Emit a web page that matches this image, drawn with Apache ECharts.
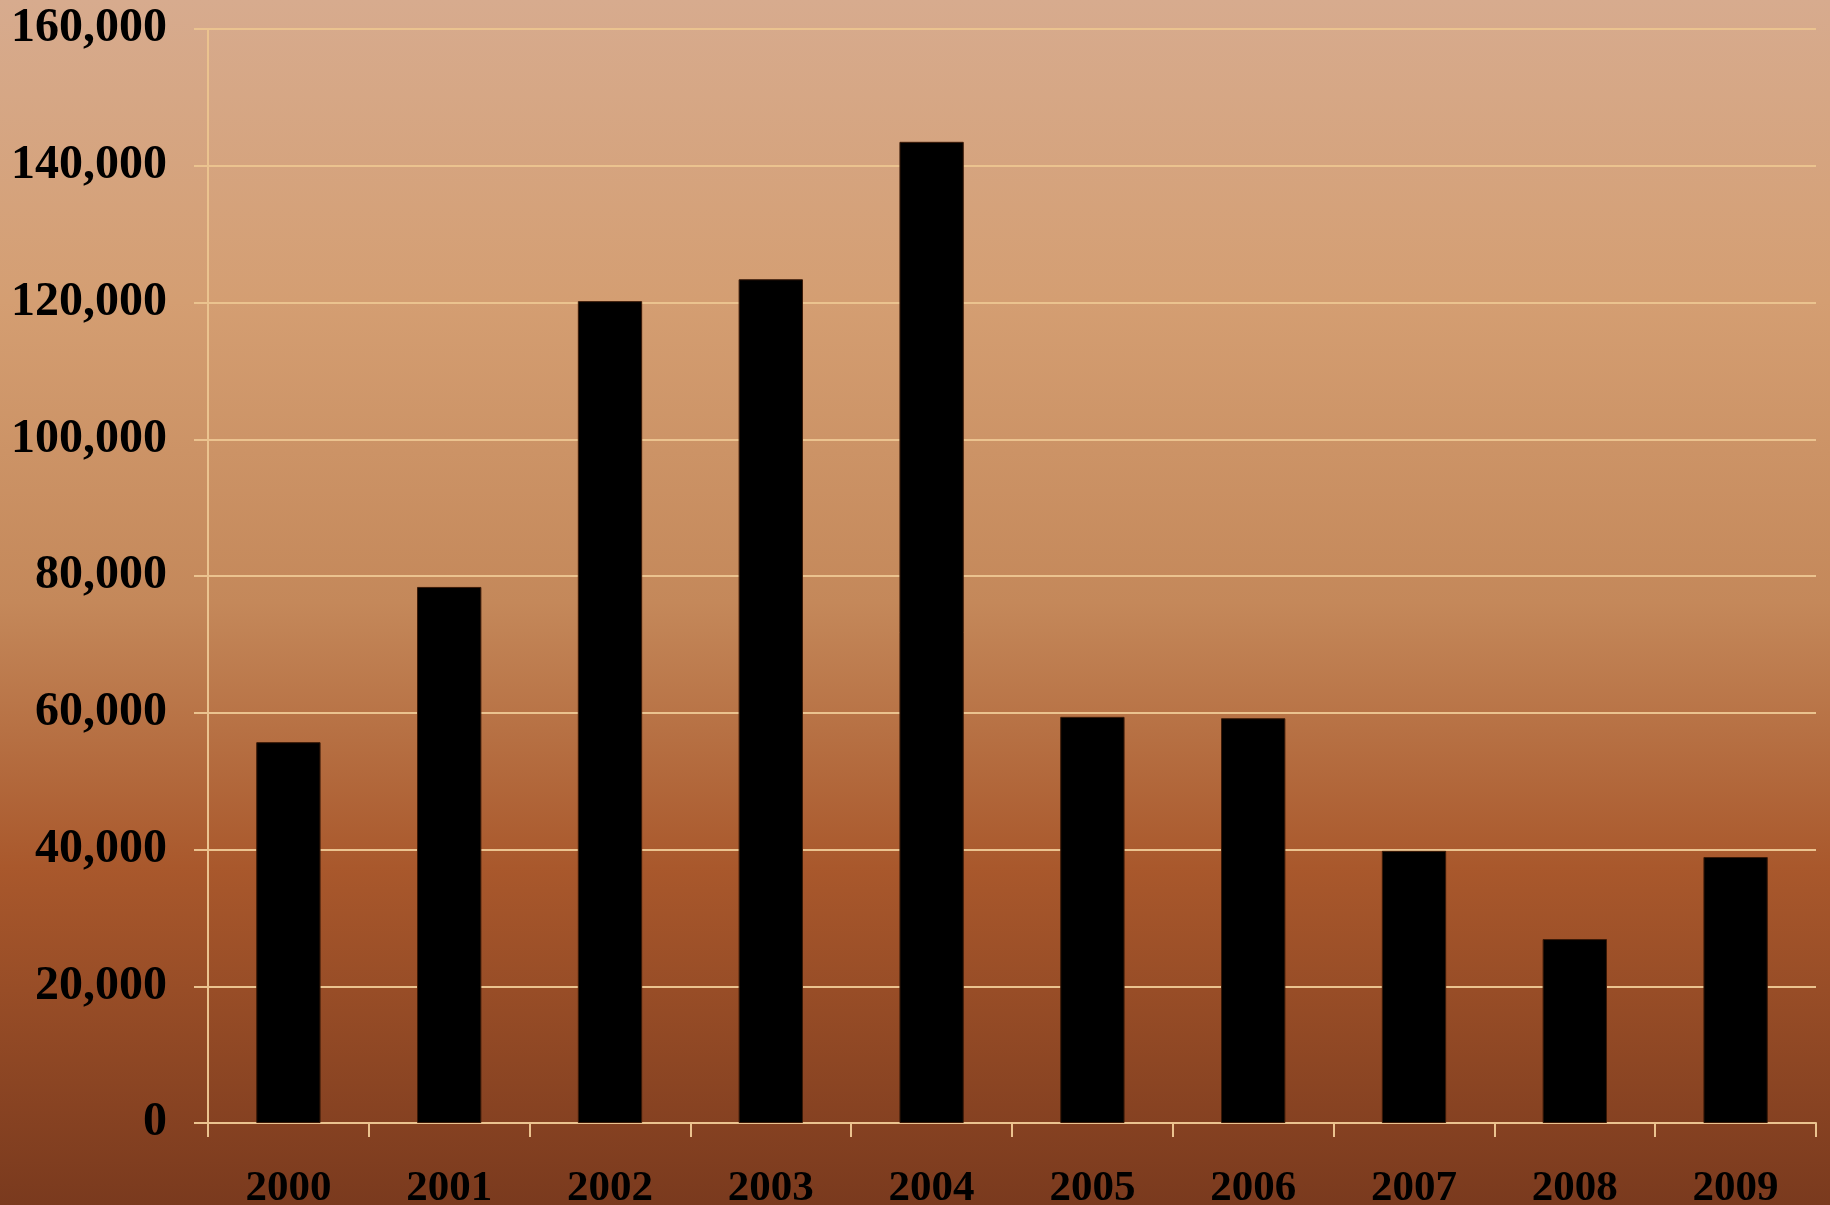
<!DOCTYPE html>
<html>
<head>
<meta charset="utf-8">
<script src="https://cdn.jsdelivr.net/npm/echarts@6/dist/echarts.min.js"></script>
<style>
html,body{margin:0;padding:0;width:1830px;height:1205px;overflow:hidden;}
#chart{width:1830px;height:1205px;}
</style>
</head>
<body>
<div id="chart"></div>
<script>
const categories = ['2000','2001','2002','2003','2004','2005','2006','2007','2008','2009'];
const values = [55700, 78400, 120200, 123400, 143500, 59400, 59200, 39800, 26900, 38900];
const yTicks = {min: 0, max: 160000, interval: 20000};

const lineColor = '#EBC38F';
const chart = echarts.init(document.getElementById('chart'));
chart.setOption({
  backgroundColor: new echarts.graphic.LinearGradient(0, 0, 0, 1, [
    {offset: 0, color: '#D7AB8E'},
    {offset: 0.25, color: '#D49E72'},
    {offset: 0.5, color: '#C4885A'},
    {offset: 0.72, color: '#A9582C'},
    {offset: 1, color: '#7A3A1E'}
  ]),
  animation: false,
  grid: {left: 208, right: 14, top: 29, bottom: 82, containLabel: false, outerBoundsMode: 'none'},
  xAxis: {
    type: 'category',
    data: categories,
    axisLine: {lineStyle: {color: lineColor, width: 2}},
    axisTick: {show: true, length: 14, lineStyle: {color: lineColor, width: 2}},
    axisLabel: {
      color: '#000', fontFamily: 'Liberation Serif', fontWeight: 'bold', fontSize: 43, margin: 44
    }
  },
  yAxis: {
    type: 'value',
    min: yTicks.min, max: yTicks.max, interval: yTicks.interval,
    axisLine: {show: true, lineStyle: {color: lineColor, width: 2}},
    axisTick: {show: true, length: 14, lineStyle: {color: lineColor, width: 2}},
    splitLine: {lineStyle: {color: lineColor, width: 2}},
    axisLabel: {
      color: '#000', fontFamily: 'Liberation Serif', fontWeight: 'bold', fontSize: 48, margin: 41,
      formatter: v => v.toLocaleString('en-US')
    }
  },
  series: [{
    type: 'bar',
    data: values,
    barWidth: '40%',
    itemStyle: {color: '#000', borderColor: '#3a1a08', borderWidth: 1}
  }]
});
</script>
</body>
</html>
